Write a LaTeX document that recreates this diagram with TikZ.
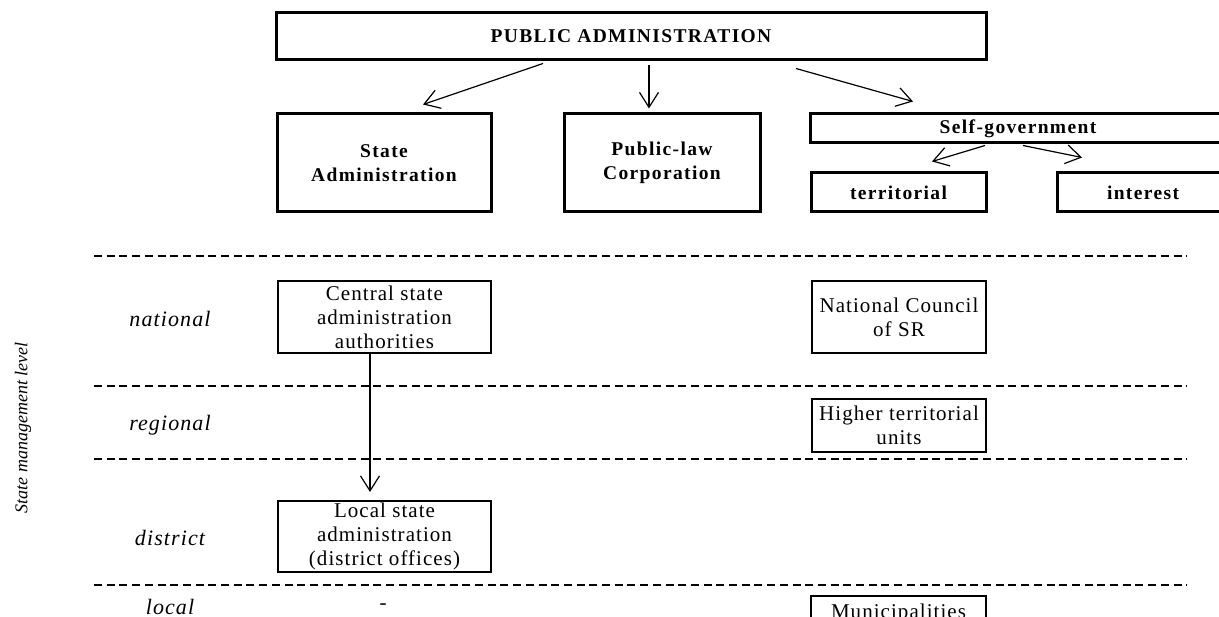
\documentclass[tikz,border=0pt]{standalone}
\usepackage{fontspec}
\setmainfont{Liberation Serif}
\newfontfamily\boxfont[LetterSpace=5]{Liberation Serif}
\newfontfamily\headfont[LetterSpace=7]{Liberation Serif}
\usetikzlibrary{arrows.meta}

\begin{document}
\begin{tikzpicture}[x=1pt,y=-1pt,
  headbox/.style={draw, line width=3pt, inner sep=0pt, align=center,
    font=\headfont\bfseries\fontsize{19.5}{24}\selectfont},
  levelbox/.style={draw, line width=2pt, inner sep=0pt, align=center,
    font=\boxfont\fontsize{21}{24}\selectfont},
  levellabel/.style={inner sep=0pt, font=\boxfont\itshape\fontsize{22}{24}\selectfont},
  link/.style={line width=1.2pt,
    -{Straight Barb[length=15pt,width=19pt,line width=1.2pt]}},
  divider/.style={line width=1.2pt, dash pattern=on 8pt off 4.7pt}
]
\useasboundingbox (0,0) rectangle (1219,617);

% organisational tree
\node[headbox, minimum width=710pt, minimum height=47pt] (pa) at (631,36.5) {PUBLIC ADMINISTRATION};
\node[headbox, minimum width=214pt, minimum height=98pt] (sa) at (384,163) {State\\Administration};
\node[headbox, minimum width=196pt, minimum height=98pt] (plc) at (662,163) {Public-law\\Corporation};
\node[headbox, minimum width=416pt, minimum height=29pt] (sg) at (1018,128.5) {Self-government};
\node[headbox, minimum width=175pt, minimum height=39pt] (ter) at (898.5,192.5) {territorial};
\node[headbox, minimum width=172pt, minimum height=39pt] (int) at (1143,192.5) {interest};

\draw[link] ([xshift=-88pt,yshift=-2pt]pa.south) -- ([xshift=39pt,yshift=8pt]sa.north);
\draw[link] ([xshift=18pt,yshift=-4pt]pa.south) -- ([xshift=-13pt,yshift=4pt]plc.north);
\draw[link] ([xshift=165pt,yshift=-7pt]pa.south) -- ([xshift=-105pt,yshift=11pt]sg.north);
\draw[link] ([xshift=-33pt,yshift=-1pt]sg.south) -- ([xshift=33.5pt,yshift=10pt]ter.north);
\draw[link] ([xshift=5pt,yshift=-1pt]sg.south) -- ([xshift=-61pt,yshift=14pt]int.north);

% level dividers
\draw[divider] (94,256) -- (1187,256);
\draw[divider] (94,386) -- (1187,386);
\draw[divider] (94,459) -- (1187,459);
\draw[divider] (94,585) -- (1187,585);

% level names
\node[rotate=90, inner sep=0pt, font=\itshape\fontsize{18}{20}\selectfont] (axis) at (23,428) {State management level};
\node[levellabel] (lnat) at (170,319) {national};
\node[levellabel] (lreg) at (170,425) {regional};
\node[levellabel] (ldis) at (170,538) {district};
\node[levellabel] (lloc) at (170,607) {local};

% bodies per level
\node[levelbox, minimum width=213pt, minimum height=72pt] (csa) at (384.5,317) {Central state\\administration\\authorities};
\node[levelbox, minimum width=213pt, minimum height=71pt] (lsa) at (384.5,536.5) {Local state\\administration\\(district offices)};
\node[inner sep=0pt, font=\boxfont\fontsize{21}{24}\selectfont] (none) at (383,607) {-};
\node[levelbox, minimum width=174pt, minimum height=72pt] (ncsr) at (899,317) {National Council\\of SR};
\node[levelbox, minimum width=174pt, minimum height=53pt] (htu) at (899,425.5) {Higher territorial\\units};
\node[levelbox, minimum width=175pt, minimum height=34pt] (mun) at (898.5,613) {Municipalities};

\draw[link] ([xshift=-14.5pt]csa.south) -- ([xshift=-14.5pt,yshift=8pt]lsa.north);
\end{tikzpicture}
\end{document}
